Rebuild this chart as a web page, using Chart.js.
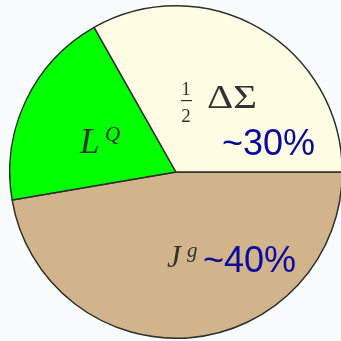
<!DOCTYPE html>
<html>
<head>
<meta charset="utf-8">
<script src="https://cdn.jsdelivr.net/npm/chart.js@4/dist/chart.umd.min.js"></script>
<style>
  html, body { margin: 0; padding: 0; background: #f8fcfd; overflow: hidden; width: 341px; height: 341px; }
  #wrap { position: absolute; left: 9px; top: 5px; width: 334px; height: 334px; }
</style>
</head>
<body>
<div id="wrap"><canvas id="pieChart"></canvas></div>
<script>
// slices clockwise from 3 o'clock
const labels = ['Jg', 'LQ', 'ΔΣ/2'];
const shares = [47.3, 19.5, 33.2];
const colors = ['#d2b48c', '#00ff00', '#fffde4'];

// math-ish labels drawn on top of the slices
const sliceText = {
    id: 'sliceText',
    afterDraw(chart) {
        const arc = chart.getDatasetMeta(0).data[0];
        const cx = arc.x, cy = arc.y;
        const ctx = chart.ctx;
        ctx.save();
        ctx.textBaseline = 'alphabetic';
        ctx.textAlign = 'left';

        // 1/2 ΔΣ
        ctx.fillStyle = '#333333';
        ctx.font = '19px "Liberation Serif"';
        ctx.textAlign = 'center';
        ctx.fillText('1', cx + 10, cy - 77);
        ctx.fillText('2', cx + 10, cy - 50);
        ctx.fillRect(cx + 5, cy - 72, 11, 1.2);
        ctx.textAlign = 'left';
        ctx.save();
        ctx.translate(cx + 31, cy - 64);
        ctx.scale(1.2, 1);
        ctx.font = '34px "Liberation Serif"';
        ctx.fillText('ΔΣ', 0, 0);
        ctx.restore();

        // L^Q
        ctx.font = 'italic 35px "Liberation Serif"';
        ctx.fillText('L', cx - 96, cy - 19);
        ctx.font = 'italic 21px "Liberation Serif"';
        ctx.fillText('Q', cx - 71, cy - 31);

        // J^g
        ctx.font = 'italic 31px "Liberation Serif"';
        ctx.fillText('J', cx - 9, cy + 95);
        ctx.font = 'italic 21px "Liberation Serif"';
        ctx.fillText('g', cx + 11, cy + 85);

        // percentages
        ctx.fillStyle = '#0a0a9e';
        ctx.font = '36px "Liberation Sans"';
        ctx.fillText('~30%', cx + 46, cy - 17);
        ctx.fillText('~40%', cx + 27, cy + 100);
        ctx.restore();
    }
};

new Chart(document.getElementById('pieChart'), {
    type: 'pie',
    data: {
        labels: labels,
        datasets: [{
            data: shares,
            backgroundColor: colors,
            borderColor: '#2e2e2e',
            borderWidth: 1.5
        }]
    },
    options: {
        responsive: true,
        maintainAspectRatio: false,
        animation: false,
        rotation: 90,
        layout: { padding: 0 },
        plugins: {
            legend: { display: false },
            tooltip: { enabled: false }
        }
    },
    plugins: [sliceText]
});
</script>
</body>
</html>
